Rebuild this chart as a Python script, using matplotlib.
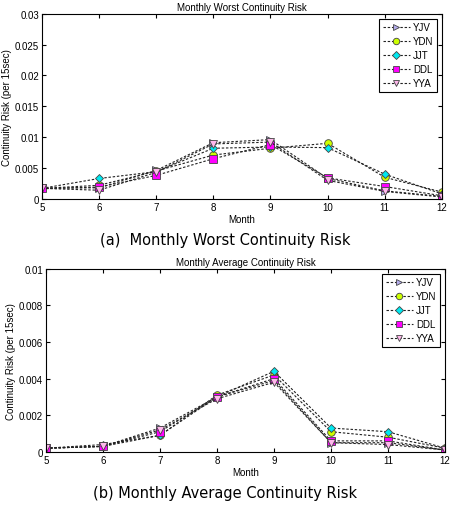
import matplotlib.pyplot as plt

months = [5, 6, 7, 8, 9, 10, 11, 12]
names = ["YJV", "YDN", "JJT", "DDL", "YYA"]

worst_yjv = [0.0017, 0.0018, 0.0046, 0.0091, 0.0096, 0.0033, 0.0013, 0.0004]
worst_ydn = [0.0017, 0.0022, 0.0045, 0.0071, 0.0082, 0.0090, 0.0035, 0.0011]
worst_jjt = [0.0017, 0.0033, 0.0044, 0.0082, 0.0084, 0.0083, 0.0040, 0.0008]
worst_ddl = [0.0017, 0.0019, 0.0038, 0.0065, 0.0088, 0.0034, 0.0020, 0.0005]
worst_yya = [0.0017, 0.0014, 0.0043, 0.0089, 0.0092, 0.0030, 0.0012, 0.0003]

avg_yjv = [0.0002, 0.0003, 0.0013, 0.0030, 0.0039, 0.0005, 0.0005, 0.0001]
avg_ydn = [0.0002, 0.0003, 0.0009, 0.0031, 0.0042, 0.0011, 0.0008, 0.0002]
avg_jjt = [0.0002, 0.0004, 0.0009, 0.0030, 0.0044, 0.0013, 0.0011, 0.0002]
avg_ddl = [0.0002, 0.0003, 0.0011, 0.0030, 0.0040, 0.0006, 0.0006, 0.0001]
avg_yya = [0.0002, 0.0003, 0.0012, 0.0029, 0.0038, 0.0005, 0.0004, 0.0001]

STYLES = [
    (">", "#b4acec"),
    ("o", "#ccff00"),
    ("D", "#00e8f0"),
    ("s", "#ff00ff"),
    ("v", "#ffb8ec"),
]


def draw(ax, series, title, ymax, yticks, ylabels):
    for name, ys, (mk, col) in zip(names, series, STYLES):
        ax.plot(months, ys, color="#222222", linestyle=(0, (2.2, 1.6)), linewidth=0.8,
                marker=mk, markersize=5.5 if mk != "D" else 4.5, markerfacecolor=col,
                markeredgecolor="#444444", markeredgewidth=0.6, label=name)
    ax.set_xlim(5, 12)
    ax.set_ylim(0, ymax)
    ax.set_xticks(months)
    ax.set_yticks(yticks, ylabels)
    ax.tick_params(direction="in", labelsize=7, length=3, top=True, right=True, pad=2)
    ax.set_title(title, fontsize=7, pad=3)
    ax.set_xlabel("Month", fontsize=7, labelpad=2)
    ax.set_ylabel("Continuity Risk (per 15sec)", fontsize=7, labelpad=2)
    leg = ax.legend(loc="upper right", fontsize=7, handlelength=2.8, handletextpad=0.3,
                    borderpad=0.4, labelspacing=0.4, fancybox=False, framealpha=1,
                    markerscale=0.85)
    leg.get_frame().set_edgecolor("black")
    leg.get_frame().set_linewidth(0.8)
    for sp in ax.spines.values():
        sp.set_linewidth(0.8)


plt.rcParams["font.family"] = ["Liberation Sans", "DejaVu Sans"]
fig = plt.figure(figsize=(4.5, 5.06), dpi=100)

ax1 = fig.add_axes([0.093, 0.605, 0.889, 0.366])
draw(ax1, [worst_yjv, worst_ydn, worst_jjt, worst_ddl, worst_yya],
     "Monthly Worst Continuity Risk", 0.03,
     [0, 0.005, 0.01, 0.015, 0.02, 0.025, 0.03],
     ["0", "0.005", "0.01", "0.015", "0.02", "0.025", "0.03"])
fig.text(0.5, 0.525, "(a)  Monthly Worst Continuity Risk", ha="center", va="center",
         fontsize=10.5, family="DejaVu Sans")

ax2 = fig.add_axes([0.102, 0.105, 0.887, 0.362])
draw(ax2, [avg_yjv, avg_ydn, avg_jjt, avg_ddl, avg_yya],
     "Monthly Average Continuity Risk", 0.01,
     [0, 0.002, 0.004, 0.006, 0.008, 0.01],
     ["0", "0.002", "0.004", "0.006", "0.008", "0.01"])
fig.text(0.5, 0.025, "(b) Monthly Average Continuity Risk", ha="center", va="center",
         fontsize=10.5, family="DejaVu Sans")

fig.savefig("out.png", dpi=100)
